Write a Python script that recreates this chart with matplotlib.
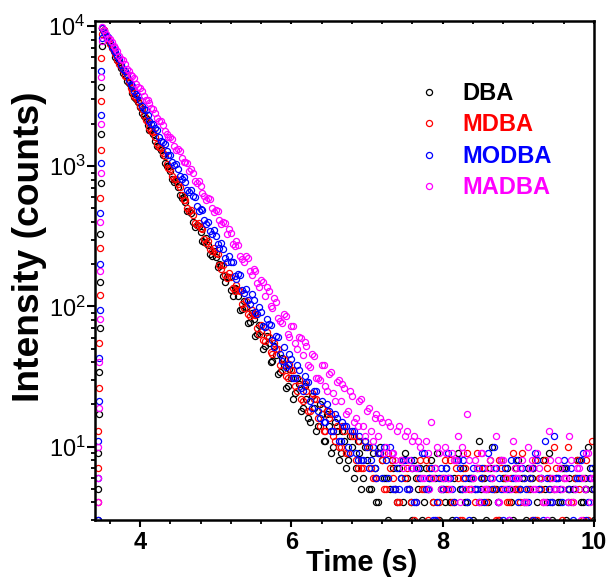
import matplotlib
matplotlib.use('Agg')
import matplotlib.pyplot as plt
from matplotlib.ticker import MultipleLocator, LogLocator, NullFormatter, FixedLocator

plt.rcParams['font.family'] = ['Liberation Sans', 'DejaVu Sans']
plt.rcParams['mathtext.fontset'] = 'custom'
plt.rcParams['mathtext.rm'] = 'Liberation Sans'
plt.rcParams['mathtext.default'] = 'regular'

# ---------------- data ----------------
series_names = ["DBA", "MDBA", "MODBA", "MADBA"]
series_colors = ["#000000", "#FF0000", "#0000FF", "#FF00FF"]

# instrument rise (closely spaced channels)
rise_time = [3.44, 3.445, 3.45, 3.455, 3.46, 3.465, 3.47, 3.475, 3.48, 3.485, 3.49, 3.495]
dba_rise = [3, 5, 9, 17, 34, 70, 150, 330, 760, 1700, 3700, 7200]
mdba_rise = [4, 7, 13, 26, 55, 120, 260, 590, 1300, 2900, 5900, 8700]
modba_rise = [3, 6, 11, 21, 43, 95, 200, 460, 1050, 2300, 4800, 8200]
madba_rise = [4, 6, 10, 19, 40, 82, 180, 400, 900, 2000, 4300, 7800]

# decay channels (s), first set
decay_time = [
    3.50, 3.55, 3.60, 3.65, 3.70, 3.75, 3.80, 3.85, 3.90, 3.95,
    4.00, 4.05, 4.10, 4.15, 4.20, 4.25, 4.30, 4.35, 4.40, 4.45,
    4.50, 4.55, 4.60, 4.65, 4.70, 4.75, 4.80, 4.85, 4.90, 4.95,
    5.00, 5.05, 5.10, 5.15, 5.20, 5.25, 5.30, 5.35, 5.40, 5.45,
    5.50, 5.55, 5.60, 5.65, 5.70, 5.75, 5.80, 5.85, 5.90, 5.95,
    6.00, 6.05, 6.10, 6.15, 6.20, 6.25, 6.30, 6.35, 6.40, 6.45,
    6.50, 6.55, 6.60, 6.65, 6.70, 6.75, 6.80, 6.85, 6.90, 6.95,
    7.00, 7.05, 7.10, 7.15, 7.20, 7.25, 7.30, 7.35, 7.40, 7.45,
    7.50, 7.55, 7.60, 7.65, 7.70, 7.75, 7.80, 7.85, 7.90, 7.95,
    8.00, 8.05, 8.10, 8.15, 8.20, 8.25, 8.30, 8.35, 8.40, 8.45,
    8.50, 8.55, 8.60, 8.65, 8.70, 8.75, 8.80, 8.85, 8.90, 8.95,
    9.00, 9.05, 9.10, 9.15, 9.20, 9.25, 9.30, 9.35, 9.40, 9.45,
    9.50, 9.55, 9.60, 9.65, 9.70, 9.75, 9.80, 9.85, 9.90, 9.95,
    10.00,
]

# decay channels (s), interleaved second set
decay_time_b = [
    3.525, 3.575, 3.625, 3.675, 3.725, 3.775, 3.825, 3.875, 3.925, 3.975,
    4.025, 4.075, 4.125, 4.175, 4.225, 4.275, 4.325, 4.375, 4.425, 4.475,
    4.525, 4.575, 4.625, 4.675, 4.725, 4.775, 4.825, 4.875, 4.925, 4.975,
    5.025, 5.075, 5.125, 5.175, 5.225, 5.275, 5.325, 5.375, 5.425, 5.475,
    5.525, 5.575, 5.625, 5.675, 5.725, 5.775, 5.825, 5.875, 5.925, 5.975,
    6.025, 6.075, 6.125, 6.175, 6.225, 6.275, 6.325, 6.375, 6.425, 6.475,
    6.525, 6.575, 6.625, 6.675, 6.725, 6.775, 6.825, 6.875, 6.925, 6.975,
    7.025, 7.075, 7.125, 7.175, 7.225, 7.275, 7.325, 7.375, 7.425, 7.475,
    7.525, 7.575, 7.625, 7.675, 7.725, 7.775, 7.825, 7.875, 7.925, 7.975,
    8.025, 8.075, 8.125, 8.175, 8.225, 8.275, 8.325, 8.375, 8.425, 8.475,
    8.525, 8.575, 8.625, 8.675, 8.725, 8.775, 8.825, 8.875, 8.925, 8.975,
    9.025, 9.075, 9.125, 9.175, 9.225, 9.275, 9.325, 9.375, 9.425, 9.475,
    9.525, 9.575, 9.625, 9.675, 9.725, 9.775, 9.825, 9.875, 9.925, 9.975,
]

dba_counts = [
    9730, 8490, 7580, 6640, 5720, 4980, 4470, 3890, 3330, 3010,
    2630, 2270, 1960, 1800, 1510, 1360, 1210, 998, 921, 770,
    712, 596, 551, 478, 397, 379, 341, 287, 274, 229,
    224, 201, 166, 163, 131, 135, 118, 96, 99, 78,
    81, 64, 67, 52, 55, 41, 45, 34, 38, 27,
    31, 24, 28, 19, 22, 15, 19, 14, 17, 11,
    14, 10, 13, 9, 11, 8, 10, 7, 9, 6,
    8, 5, 7, 4, 8, 6, 5, 7, 4, 6,
    9, 5, 3, 6, 7, 4, 5, 8, 6, 3,
    5, 7, 4, 6, 9, 5, 4, 6, 3, 7,
    5, 6, 4, 10, 5, 3, 6, 7, 4, 5,
    8, 6, 3, 5, 7, 4, 6, 5, 9, 3,
    6, 4, 7, 5, 2, 6, 8, 4, 5, 7,
    3,
]
dba_counts_b = [
    9290, 7890, 7150, 6050, 5490, 4640, 4050, 3710, 3100, 2860,
    2380, 2200, 1820, 1690, 1390, 1300, 1060, 1010, 812, 779,
    624, 601, 478, 465, 368, 377, 292, 306, 236, 248,
    190, 199, 150, 162, 119, 133, 95, 110, 76, 90,
    62, 74, 50, 62, 40, 52, 33, 43, 26, 36,
    22, 31, 18, 27, 16, 23, 13, 20, 11, 17,
    9, 15, 8, 13, 7, 12, 6, 11, 5, 10,
    5, 9, 4, 10, 6, 3, 8, 5, 7, 4,
    6, 4, 8, 5, 3, 7, 6, 4, 9, 5,
    4, 6, 3, 8, 5, 7, 4, 6, 5, 11,
    6, 3, 7, 5, 4, 8, 6, 5, 3, 7,
    5, 4, 7, 6, 3, 5, 8, 4, 6, 5,
    4, 7, 3, 6, 5, 8, 4, 6, 10, 5,
]

mdba_counts = [
    9650, 8620, 7470, 6680, 5760, 5150, 4430, 3980, 3410, 3070,
    2700, 2300, 2080, 1770, 1610, 1360, 1250, 1040, 962, 810,
    741, 619, 575, 483, 446, 382, 362, 301, 295, 247,
    241, 199, 196, 159, 161, 129, 131, 104, 109, 85,
    89, 70, 74, 57, 61, 46, 50, 38, 42, 31,
    35, 27, 30, 21, 25, 18, 22, 16, 19, 13,
    16, 12, 14, 10, 13, 9, 12, 8, 11, 7,
    10, 7, 6, 9, 8, 5, 7, 6, 4, 8,
    6, 5, 7, 4, 8, 5, 3, 6, 7, 4,
    6, 5, 8, 4, 6, 3, 7, 5, 6, 9,
    4, 7, 5, 6, 3, 8, 5, 4, 6, 7,
    5, 9, 4, 6, 7, 3, 5, 8, 6, 4,
    7, 5, 6, 10, 4, 6, 5, 3, 8, 6,
    5,
]
mdba_counts_b = [
    9300, 7910, 6940, 6320, 5340, 4880, 4300, 3600, 3160, 2910,
    2550, 2140, 1880, 1740, 1450, 1350, 1190, 970, 850, 810,
    712, 575, 505, 487, 394, 392, 355, 285, 256, 261,
    235, 186, 167, 173, 136, 142, 128, 98, 89, 95,
    87, 64, 58, 66, 47, 55, 50, 35, 32, 39,
    35, 25, 22, 28, 18, 24, 22, 14, 13, 18,
    17, 11, 10, 14, 9, 13, 12, 7, 7, 11,
    10, 6, 6, 9, 5, 9, 8, 5, 4, 8,
    7, 4, 3, 6, 5, 8, 7, 4, 3, 6,
    8, 5, 4, 7, 3, 6, 9, 5, 4, 7,
    6, 4, 8, 5, 3, 7, 6, 4, 9, 5,
    4, 6, 5, 3, 8, 6, 4, 7, 5, 10,
    6, 3, 7, 5, 4, 8, 6, 5, 3, 11,
]

modba_counts = [
    9720, 8590, 7740, 6730, 6090, 5280, 4780, 4150, 3760, 3250,
    2950, 2550, 2330, 2010, 1870, 1610, 1490, 1280, 1200, 1020,
    961, 812, 770, 652, 618, 519, 497, 414, 398, 330,
    318, 262, 257, 209, 207, 166, 169, 131, 134, 104,
    111, 89, 92, 71, 75, 58, 62, 46, 51, 38,
    42, 31, 35, 25, 29, 21, 25, 18, 21, 15,
    18, 13, 16, 11, 14, 10, 13, 9, 12, 8,
    10, 8, 7, 9, 6, 8, 10, 5, 7, 6,
    8, 5, 7, 4, 6, 9, 5, 7, 3, 6,
    5, 7, 6, 4, 8, 5, 6, 3, 7, 5,
    6, 4, 9, 5, 7, 6, 3, 5, 8, 6,
    4, 7, 5, 6, 3, 8, 6, 11, 5, 4,
    6, 5, 8, 4, 7, 5, 6, 9, 3, 6,
    5,
]
modba_counts_b = [
    9080, 8300, 7090, 6550, 5800, 4920, 4560, 3850, 3420, 3190,
    2690, 2520, 2110, 2010, 1800, 1500, 1440, 1200, 1070, 1040,
    850, 840, 680, 672, 600, 480, 488, 385, 345, 352,
    278, 284, 220, 230, 206, 156, 167, 124, 112, 122,
    91, 99, 73, 81, 74, 51, 61, 41, 37, 46,
    31, 38, 26, 32, 29, 19, 25, 16, 15, 20,
    13, 17, 11, 15, 14, 9, 13, 8, 8, 11,
    7, 10, 6, 9, 10, 6, 9, 5, 5, 8,
    5, 8, 4, 7, 9, 5, 6, 3, 4, 7,
    6, 9, 5, 3, 7, 8, 4, 6, 5, 4,
    7, 5, 6, 10, 4, 5, 7, 3, 6, 8,
    5, 6, 4, 7, 9, 5, 3, 6, 4, 12,
    6, 4, 7, 5, 3, 6, 8, 5, 4, 7,
]

madba_counts = [
    9800, 8760, 8070, 7150, 6590, 5830, 5390, 4760, 4410, 3880,
    3600, 3160, 2950, 2580, 2410, 2100, 1970, 1710, 1620, 1390,
    1320, 1140, 1080, 928, 889, 757, 726, 615, 598, 502,
    489, 410, 402, 331, 334, 270, 276, 219, 228, 178,
    186, 147, 155, 119, 129, 97, 107, 79, 89, 64,
    73, 55, 61, 45, 52, 37, 44, 31, 38, 27,
    33, 24, 29, 21, 26, 18, 23, 16, 21, 14,
    18, 13, 16, 12, 15, 10, 14, 9, 13, 8,
    12, 8, 11, 7, 10, 6, 9, 15, 7, 9,
    6, 9, 5, 8, 12, 10, 5, 8, 6, 7,
    9, 5, 7, 6, 12, 4, 8, 6, 5, 7,
    6, 8, 4, 7, 5, 9, 6, 4, 13, 6,
    5, 7, 6, 4, 8, 5, 7, 6, 9, 4,
    6,
]
madba_counts_b = [
    9430, 8270, 7710, 6990, 6090, 5720, 4960, 4480, 4250, 3650,
    3460, 2980, 2840, 2570, 2190, 2100, 1780, 1610, 1560, 1310,
    1280, 1070, 1050, 950, 785, 782, 640, 578, 582, 470,
    476, 384, 391, 355, 281, 292, 229, 207, 220, 168,
    180, 138, 149, 137, 101, 114, 83, 76, 86, 61,
    72, 50, 60, 56, 38, 46, 31, 30, 38, 25,
    34, 21, 30, 28, 17, 25, 15, 14, 22, 12,
    19, 11, 17, 16, 9, 15, 9, 8, 14, 7,
    13, 7, 12, 11, 6, 11, 5, 6, 10, 5,
    10, 6, 9, 8, 4, 9, 17, 5, 8, 4,
    9, 5, 8, 7, 4, 8, 5, 3, 11, 6,
    7, 4, 10, 8, 5, 7, 4, 3, 8, 5,
    8, 5, 6, 12, 4, 7, 3, 5, 9, 6,
]

x_ticks = [4, 6, 8, 10]
x_tick_labels = ["4", "6", "8", "10"]

rise_sets = [dba_rise, mdba_rise, modba_rise, madba_rise]
count_sets = [dba_counts, mdba_counts, modba_counts, madba_counts]
count_sets_b = [dba_counts_b, mdba_counts_b, modba_counts_b, madba_counts_b]

# ---------------- figure ----------------
fig = plt.figure(figsize=(6.10, 5.81), dpi=100)
ax = fig.add_axes([95 / 610, 1 - 520 / 581, 499 / 610, 499.3 / 581])

for name, color, rise, counts, counts_b in zip(series_names, series_colors,
                                               rise_sets, count_sets, count_sets_b):
    ax.plot(rise_time + decay_time + decay_time_b, rise + counts + counts_b,
            linestyle='none', marker='o', color=color,
            markersize=4.4, markerfacecolor='none', markeredgecolor=color,
            markeredgewidth=0.9, label=name)

ax.set_yscale('log')
ax.set_xlim(3.405, 10.0)
ax.set_ylim(3.0, 10900)

ax.xaxis.set_major_locator(FixedLocator(x_ticks))
ax.set_xticklabels(x_tick_labels, fontweight='bold')
ax.xaxis.set_minor_locator(MultipleLocator(0.4))
ax.yaxis.set_major_locator(LogLocator(base=10, numticks=10))
ax.yaxis.set_minor_locator(LogLocator(base=10, subs=range(2, 10), numticks=20))
ax.yaxis.set_minor_formatter(NullFormatter())

for sp in ax.spines.values():
    sp.set_linewidth(1.8)

ax.tick_params(axis='y', which='major', direction='out', length=5.8, width=1.5,
               labelsize=17, pad=1)
ax.tick_params(axis='y', which='minor', direction='out', length=3.0, width=1.3)
ax.tick_params(axis='x', which='major', direction='out', length=5.0, width=1.5,
               labelsize=17, pad=3, top=True)
ax.tick_params(axis='x', which='minor', direction='out', length=3.0, width=1.3, top=True)
# top ticks: small, inward
for t in ax.xaxis.get_major_ticks() + ax.xaxis.get_minor_ticks():
    t.tick2line.set_marker(3)
    t.tick2line.set_markersize(2.0)

ax.set_xlabel("Time (s)", fontsize=21, fontweight='bold')
ax.set_ylabel("Intensity (counts)", fontsize=26.8, fontweight='bold')
ax.xaxis.set_label_coords(0.535, -0.058)
ax.yaxis.set_label_coords(-0.096, 0.547)

leg = ax.legend(loc='upper left', bbox_to_anchor=(0.603, 0.920), frameon=False,
                prop={'weight': 'bold', 'size': 17}, labelcolor='linecolor',
                handlelength=1.0, handletextpad=0.9, labelspacing=0.36,
                borderpad=0.4)

fig.savefig('out.png', dpi=100)
